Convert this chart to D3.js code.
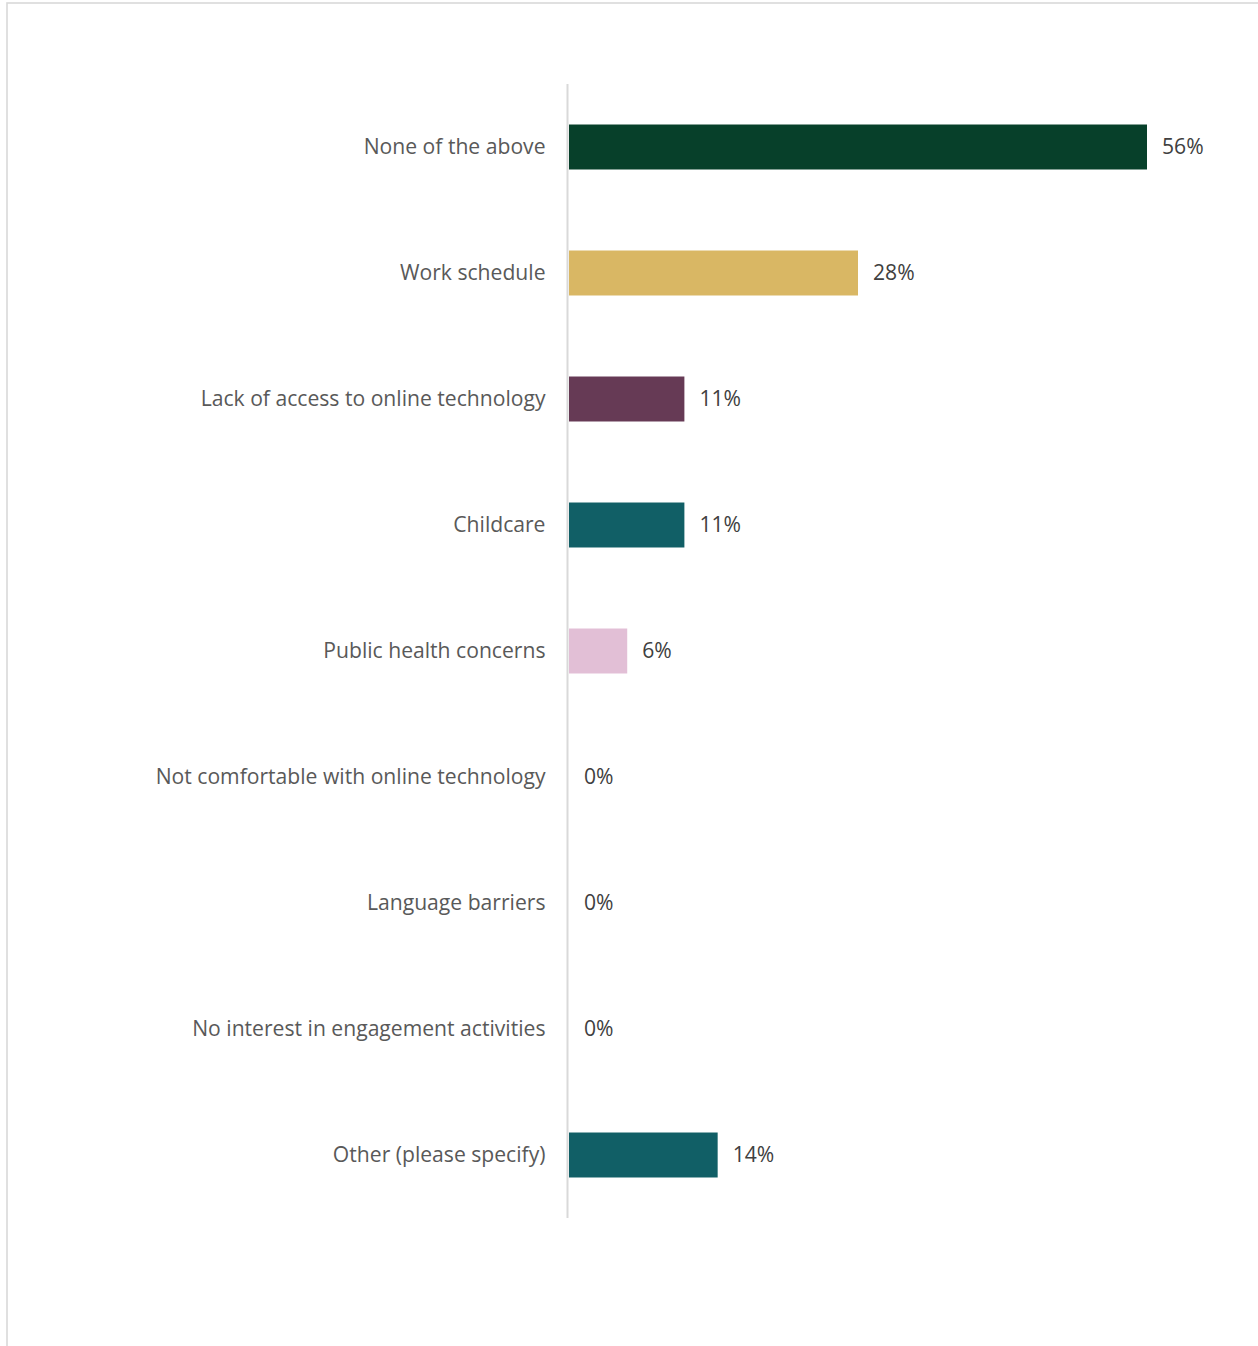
<!DOCTYPE html>
<html>
<head>
<meta charset="utf-8">
<script src="https://cdn.jsdelivr.net/npm/d3@7"></script>
<style>
  html, body { margin: 0; padding: 0; background: #fff; }
  svg { display: block; }
</style>
</head>
<body>
<svg id="chart" width="1258" height="1346"></svg>
<script>
const categories = [
  "None of the above",
  "Work schedule",
  "Lack of access to online technology",
  "Childcare",
  "Public health concerns",
  "Not comfortable with online technology",
  "Language barriers",
  "No interest in engagement activities",
  "Other (please specify)"
];
const values = [55.6, 27.8, 11.1, 11.1, 5.6, 0, 0, 0, 14.3];
const colors = ["#07402A", "#D9B764", "#663A55", "#115F66", "#E2BFD6", "#115F66", "#115F66", "#115F66", "#115F66"];

const data = categories.map((c, i) => ({ cat: c, value: values[i], color: colors[i] }));

const svg = d3.select("#chart");
const FONT = "'Open Sans', 'DejaVu Sans', sans-serif";

// outer frame
svg.append("rect")
  .attr("x", 7).attr("y", 3)
  .attr("width", 1400).attr("height", 1400)
  .attr("fill", "none")
  .attr("stroke", "#d9d9d9")
  .attr("stroke-width", 1.6);

const plotTop = 84, plotBottom = 1218;
const axisX = 567.5;
const barLeft = 569, barRightMax = 1147;

const y = d3.scaleBand()
  .domain(categories)
  .range([plotTop, plotBottom])
  .paddingInner(0.643)
  .paddingOuter(0.3215);

const x = d3.scaleLinear()
  .domain([0, d3.max(values)])
  .range([barLeft, barRightMax]);

// fit font size so longest label matches reference width
const probe = svg.append("text").attr("font-family", FONT).attr("font-size", 20)
  .text("Not comfortable with online technology");
const w20 = probe.node().getComputedTextLength();
probe.remove();
const fs = 20 * 390 / w20;

// bars
svg.append("g").selectAll("rect")
  .data(data)
  .join("rect")
  .attr("x", d => x(0))
  .attr("y", d => y(d.cat))
  .attr("width", d => x(d.value) - x(0))
  .attr("height", y.bandwidth())
  .attr("fill", d => d.color);

// axis
const axis = svg.append("g")
  .attr("transform", `translate(${axisX},0)`)
  .call(d3.axisLeft(y).tickSize(0).tickPadding(22));
axis.select(".domain")
  .attr("stroke", "#d9d9d9")
  .attr("stroke-width", 2)
  .attr("d", `M0,${plotTop}V${plotBottom}`);
axis.selectAll(".tick text")
  .attr("font-family", FONT)
  .attr("font-size", fs)
  .attr("fill", "#595959")
  .attr("dy", "0.35em");

// value labels
const fmt = d3.format(".0f");
svg.append("g").selectAll("text")
  .data(data)
  .join("text")
  .attr("x", d => x(d.value) + 15)
  .attr("y", d => y(d.cat) + y.bandwidth() / 2)
  .attr("dy", "0.35em")
  .attr("font-family", FONT)
  .attr("font-size", fs)
  .attr("fill", "#404040")
  .text(d => fmt(d.value) + "%");
</script>
</body>
</html>
